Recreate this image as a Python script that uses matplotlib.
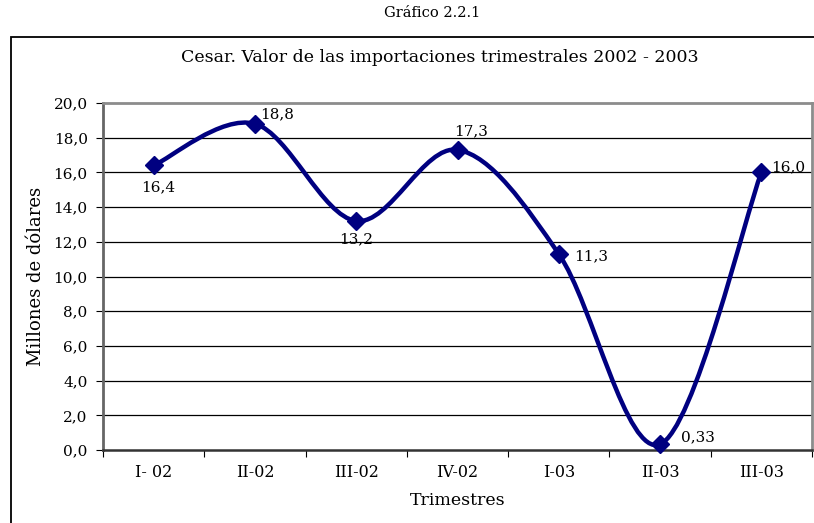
import numpy as np
import matplotlib.pyplot as plt
from matplotlib.path import Path
from matplotlib.patches import PathPatch, Rectangle

# Datos del grafico
trimestres = ["I- 02", "II-02", "III-02", "IV-02", "I-03", "II-03", "III-03"]
valores = [16.4, 18.8, 13.2, 17.3, 11.3, 0.33, 16.0]
etiquetas = ["16,4", "18,8", "13,2", "17,3", "11,3", "0,33", "16,0"]

W, H = 814, 523
fig = plt.figure(figsize=(W / 100, H / 100), dpi=100)
serif = "DejaVu Serif"

# Marco exterior del grafico
fig.patches.append(Rectangle((11 / W, -0.1), 1.0, 1.1 - 37 / H, transform=fig.transFigure,
                             fill=False, edgecolor="black", linewidth=1.3))
fig.text(432 / W, 1 - 13 / H, "Gráfico 2.2.1", ha="center", va="center",
         fontsize=10.5, family=serif)
fig.text(440 / W, 1 - 58 / H, "Cesar. Valor de las importaciones trimestrales 2002 - 2003",
         ha="center", va="center", fontsize=12.5, family=serif)

# Area de trazado
x0, x1, ytop, ybot = 103, 812, 103, 450
ax = fig.add_axes([x0 / W, 1 - ybot / H, (x1 - x0) / W, (ybot - ytop) / H])
n = len(valores)
x = np.arange(n)
ax.set_xlim(-0.5, n - 0.5)
ax.set_ylim(0, 20)

ax.set_yticks(np.arange(0, 21, 2))
ax.set_yticklabels(["{:.1f}".format(v).replace(".", ",") for v in np.arange(0, 21, 2)],
                   fontsize=11, family=serif)
for v in np.arange(2, 20, 2):
    ax.axhline(v, color="black", linewidth=0.9, zorder=1)

ax.set_xticks(np.arange(-0.5, n, 1))
ax.set_xticklabels([])
ax.set_xticks(x, minor=True)
ax.set_xticklabels(trimestres, minor=True, fontsize=11.5, family=serif)
ax.tick_params(axis="x", which="minor", length=0, pad=10)
ax.tick_params(axis="x", which="major", length=5, direction="out")
ax.tick_params(axis="y", length=5, direction="out", pad=6)

for s in ["top", "right"]:
    ax.spines[s].set_color("#8c8c8c")
    ax.spines[s].set_linewidth(2)
ax.spines["left"].set_color("#666666")
ax.spines["left"].set_linewidth(2)
ax.spines["bottom"].set_color("#333333")
ax.spines["bottom"].set_linewidth(1.8)

ax.set_xlabel("Trimestres", fontsize=12.5, family=serif, labelpad=8)
ax.set_ylabel("Millones de dólares", fontsize=13, family=serif, labelpad=6)

# Linea suavizada (estilo Excel) con curvas de Bezier entre los puntos
pts = np.column_stack([x, valores])
verts = [tuple(pts[0])]
codes = [Path.MOVETO]
for i in range(n - 1):
    p0 = pts[i - 1] if i > 0 else pts[i]
    p1, p2 = pts[i], pts[i + 1]
    p3 = pts[i + 2] if i + 2 < n else pts[i + 1]
    c1 = p1 + (p2 - p0) / 6
    c2 = p2 - (p3 - p1) / 6
    verts += [tuple(c1), tuple(c2), tuple(p2)]
    codes += [Path.CURVE4] * 3
ax.add_patch(PathPatch(Path(verts, codes), fill=False, edgecolor="#000080",
                       linewidth=3.2, zorder=3, clip_on=False))
ax.plot(x, valores, linestyle="none", marker="D", markersize=9.5, color="#000080",
        zorder=4, clip_on=False)

# posiciones de las etiquetas (en puntos, relativas al marcador)
offsets = [(3, -16), (16, 7), (0, -13), (10, 13), (23, -2), (27, 5), (19, 4)]
for xi, v, t, (dx, dy) in zip(x, valores, etiquetas, offsets):
    ax.annotate(t, (xi, v), xytext=(dx, dy), textcoords="offset points",
                fontsize=11, family=serif, ha="center", va="center",
                annotation_clip=False)

plt.savefig("out.png", dpi=100)
